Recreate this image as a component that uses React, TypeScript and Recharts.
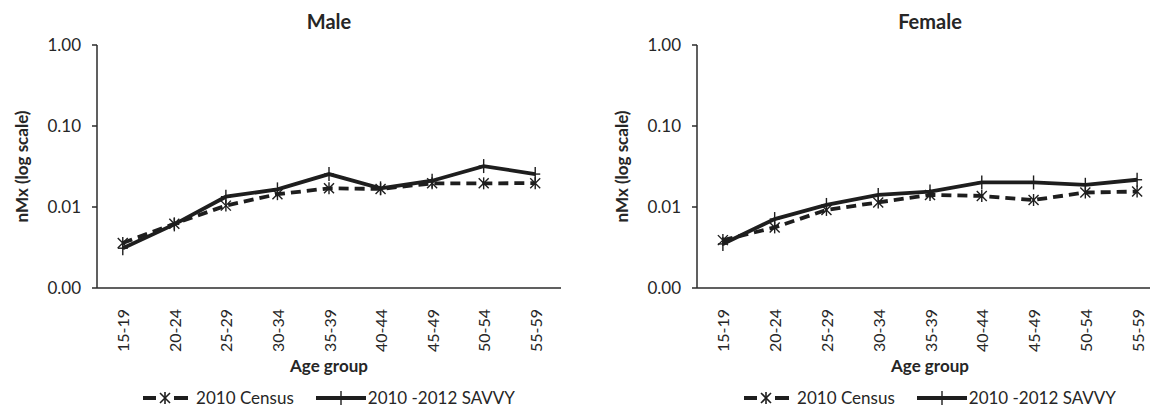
import React from 'react';
import { LineChart, Line, XAxis, YAxis, Legend } from 'recharts';

const ageGroups = ['15-19', '20-24', '25-29', '30-34', '35-39', '40-44', '45-49', '50-54', '55-59'];
const maleCensus = [0.0036, 0.0062, 0.0104, 0.0144, 0.017, 0.0167, 0.0196, 0.0196, 0.0197];
const maleSavvy = [0.0031, 0.0061, 0.0134, 0.0165, 0.0255, 0.017, 0.0211, 0.032, 0.0255];
const femaleCensus = [0.0039, 0.0056, 0.0092, 0.0114, 0.0141, 0.0137, 0.0122, 0.0151, 0.0155];
const femaleSavvy = [0.0035, 0.0071, 0.0106, 0.0141, 0.0155, 0.0201, 0.0201, 0.0188, 0.0217];
const yTicks = [0.001, 0.01, 0.1, 1];
const seriesNames = ['2010 Census', '2010 -2012 SAVVY'];

const INK = '#1e1e1e';
const AXIS = '#2b2b2b';
const TEXT = '#262626';
const FONT = 'Lato, "Open Sans", sans-serif';

const buildRows = (a: number[], b: number[]) =>
  ageGroups.map((g, i) => ({ age: g, census: a[i], savvy: b[i] }));

const StarDot = (props: any) => {
  const { cx, cy } = props;
  if (cx == null || cy == null) return null;
  return (
    <g stroke={INK} strokeWidth={1.4}>
      <line x1={cx - 5} y1={cy - 5} x2={cx + 5} y2={cy + 5} />
      <line x1={cx - 5} y1={cy + 5} x2={cx + 5} y2={cy - 5} />
      <line x1={cx} y1={cy - 6} x2={cx} y2={cy + 6} />
    </g>
  );
};

const PlusDot = (props: any) => {
  const { cx, cy } = props;
  if (cx == null || cy == null) return null;
  return (
    <g stroke={INK} strokeWidth={1.4}>
      <line x1={cx} y1={cy - 7} x2={cx} y2={cy + 7} />
      <line x1={cx - 5} y1={cy} x2={cx + 5} y2={cy} />
    </g>
  );
};

const XTick = (props: any) => {
  const { x, y, payload } = props;
  return (
    <g transform={`translate(${x},${y + 13})`}>
      <text
        transform="rotate(-90)"
        textAnchor="end"
        dominantBaseline="central"
        fill={TEXT}
        fontSize={16}
        fontFamily={FONT}
      >
        {payload.value}
      </text>
    </g>
  );
};

const LegendContent = () => (
  <div
    style={{
      height: 30,
      display: 'flex',
      justifyContent: 'center',
      alignItems: 'center',
      fontFamily: FONT,
      fontSize: 17,
      lineHeight: '20px',
      color: TEXT,
      paddingTop: 6,
      boxSizing: 'border-box',
      whiteSpace: 'nowrap',
    }}
  >
    <svg width={45} height={16} style={{ marginRight: 8 }}>
      <line x1={0} y1={8} x2={13} y2={8} stroke={INK} strokeWidth={4} />
      <line x1={31} y1={8} x2={45} y2={8} stroke={INK} strokeWidth={4} />
      <g stroke={INK} strokeWidth={1.6}>
        <line x1={17} y1={3} x2={27} y2={13} />
        <line x1={17} y1={13} x2={27} y2={3} />
        <line x1={22} y1={2} x2={22} y2={14} />
      </g>
    </svg>
    <span style={{ marginRight: 22 }}>{seriesNames[0]}</span>
    <svg width={50} height={16} style={{ marginRight: 2 }}>
      <line x1={0} y1={8} x2={50} y2={8} stroke={INK} strokeWidth={4} />
      <line x1={25} y1={1} x2={25} y2={15} stroke={INK} strokeWidth={1.4} />
    </svg>
    <span>{seriesNames[1]}</span>
  </div>
);

type PanelProps = {
  title: string;
  census: number[];
  savvy: number[];
  width: number;
  yAxisWidth: number;
  rightMargin: number;
};

const Panel = ({ title, census, savvy, width, yAxisWidth, rightMargin }: PanelProps) => {
  const data = buildRows(census, savvy);
  const plotLeft = yAxisWidth;
  const plotWidth = width - yAxisWidth - rightMargin;
  const pad = plotWidth / 18;
  return (
    <div style={{ position: 'relative', width, height: 410 }}>
      <div
        style={{
          position: 'absolute',
          left: plotLeft,
          width: plotWidth,
          top: 8,
          textAlign: 'center',
          fontFamily: FONT,
          fontWeight: 700,
          fontSize: 20,
          color: TEXT,
          lineHeight: '26px',
        }}
      >
        {title}
      </div>
      <LineChart
        width={width}
        height={410}
        data={data}
        margin={{ top: 45, right: rightMargin, bottom: 0, left: 0 }}
      >
        <XAxis
          xAxisId="b"
          dataKey="age"
          tick={<XTick />}
          tickLine={false}
          axisLine={{ stroke: AXIS, strokeWidth: 1.5 }}
          height={92}
          interval={0}
          padding={{ left: pad, right: pad }}
          label={{
            value: 'Age group',
            position: 'insideBottom',
            offset: 8,
            style: { fontFamily: FONT, fontWeight: 700, fontSize: 17, fill: TEXT },
          }}
        />
        <XAxis
          xAxisId="t"
          orientation="top"
          dataKey="age"
          tick={false}
          tickLine={false}
          axisLine={{ stroke: AXIS, strokeWidth: 1.5 }}
          height={0}
        />
        <YAxis
          yAxisId="l"
          scale="log"
          domain={[0.001, 1]}
          ticks={yTicks}
          allowDataOverflow
          width={yAxisWidth}
          tickFormatter={(v: number) => v.toFixed(2)}
          tickSize={5}
          tickMargin={11}
          tickLine={{ stroke: AXIS, strokeWidth: 1.5 }}
          axisLine={{ stroke: AXIS, strokeWidth: 1.5 }}
          tick={{ fill: TEXT, fontSize: 17, fontFamily: FONT }}
          label={{
            content: (p: any) => {
              const vb = p.viewBox || { x: 0, y: 45, width: yAxisWidth, height: 243 };
              const cx = vb.x + vb.width - 76;
              const cy = vb.y + vb.height / 2;
              return (
                <text
                  x={cx}
                  y={cy}
                  transform={`rotate(-90 ${cx} ${cy})`}
                  textAnchor="middle"
                  dominantBaseline="central"
                  fontFamily={FONT}
                  fontWeight={700}
                  fontSize={17}
                  fill={TEXT}
                >
                  nMx (log scale)
                </text>
              );
            },
          }}
        />
        <YAxis
          yAxisId="r"
          orientation="right"
          scale="log"
          domain={[0.001, 1]}
          ticks={yTicks}
          allowDataOverflow
          width={0}
          tick={false}
          tickLine={false}
          axisLine={{ stroke: AXIS, strokeWidth: 1.5 }}
        />
        <Legend
          verticalAlign="bottom"
          content={<LegendContent />}
          wrapperStyle={{ left: plotLeft, width: plotWidth }}
        />
        <Line
          xAxisId="b"
          yAxisId="l"
          type="linear"
          dataKey="census"
          name={seriesNames[0]}
          stroke={INK}
          strokeWidth={3.8}
          strokeDasharray="10 6"
          dot={<StarDot />}
          activeDot={false}
          isAnimationActive={false}
        />
        <Line
          xAxisId="b"
          yAxisId="l"
          type="linear"
          dataKey="savvy"
          name={seriesNames[1]}
          stroke={INK}
          strokeWidth={3.8}
          dot={<PlusDot />}
          activeDot={false}
          isAnimationActive={false}
        />
      </LineChart>
    </div>
  );
};

export default function App() {
  return (
    <div
      style={{
        position: 'absolute',
        left: 0,
        top: 0,
        width: 1150,
        height: 410,
        overflow: 'hidden',
        background: '#fff',
      }}
    >
      <div style={{ position: 'absolute', left: 0, top: 0 }}>
        <Panel title="Male" census={maleCensus} savvy={maleSavvy} width={575} yAxisWidth={97} rightMargin={14} />
      </div>
      <div style={{ position: 'absolute', left: 575, top: 0 }}>
        <Panel title="Female" census={femaleCensus} savvy={femaleSavvy} width={600} yAxisWidth={122} rightMargin={12} />
      </div>
    </div>
  );
}
